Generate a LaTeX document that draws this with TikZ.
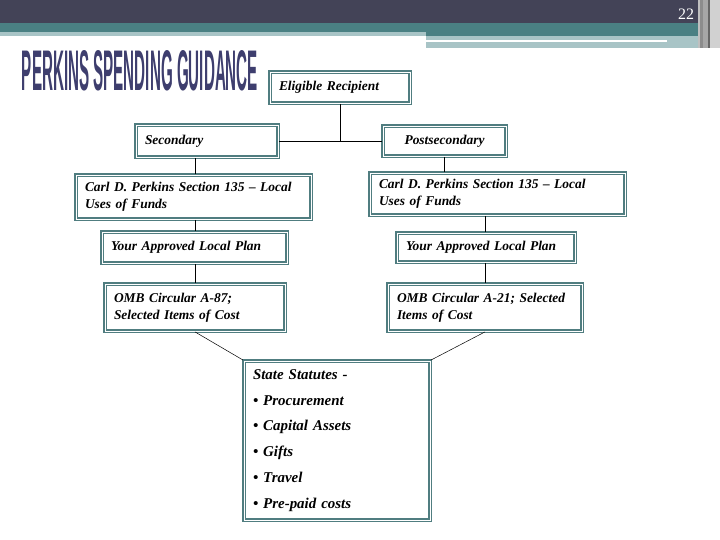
\documentclass[tikz,border=0pt]{standalone}
\usepackage{fontspec}
\setmainfont{Liberation Serif}
\newfontfamily\titlefont{Liberation Sans}
\usepackage{xcolor}
\usepackage{tikz}
\usetikzlibrary{positioning}

\definecolor{headdark}{RGB}{67,67,87}
\definecolor{headteal}{RGB}{74,128,131}
\definecolor{headlight}{RGB}{168,196,198}
\definecolor{boxteal}{RGB}{80,125,128}
\definecolor{titleblue}{RGB}{62,62,110}

\begin{document}
\begin{tikzpicture}[
  x=1bp, y=-1bp,
  box/.style={draw=boxteal, double=white, double distance=0.9bp, line width=1.8bp,
    fill=white, align=left, inner xsep=9bp, inner ysep=2bp,
    font=\fontsize{13.5}{17.5}\selectfont\bfseries\itshape},
  list/.style={box, font=\fontsize{15}{26}\selectfont\bfseries\itshape},
  link/.style={draw=black, line width=0.7bp}
]
  \useasboundingbox (0,0) rectangle (720,540);

  % slide header
  \fill[headdark] (0,0) rectangle (698,23);
  \fill[headteal] (0,23) rectangle (698,32);
  \fill[headlight] (0,32) rectangle (426,36);
  \fill[headteal] (426,32) rectangle (698,36);
  \fill[headlight] (426,36) rectangle (698,48);
  \fill[white] (426,40.5) rectangle (667,42);
  \fill[black!25] (698,0) rectangle (720,48);
  \fill[black!45] (700,0) rectangle (703,48);
  \fill[black!35] (703,0) rectangle (708,48);
  \fill[black!60] (708,0) rectangle (710,48);
  \fill[black!18] (710,0) rectangle (720,48);
  \node[text=white, font=\fontsize{16}{16}\selectfont] (pageno) at (686,14) {22};

  % title
  \node[text=titleblue, inner sep=0pt] (title) at (140,71)
    {\resizebox{236bp}{40bp}{\titlefont\bfseries PERKINS SPENDING GUIDANCE}};

  % boxes
  \node[box, text width=122bp, minimum height=31bp] (er) at (340,87.5) {Eligible Recipient};
  \node[box, text width=124bp, minimum height=32bp] (sec) at (207,141) {Secondary};
  \node[box, text width=105bp, minimum height=30bp, align=center] (post) at (444.5,141) {Postsecondary};

  \node[box, text width=217bp, minimum height=44bp] (carlL) at (193.5,197)
    {Carl D. Perkins Section 135 -- Local\\Uses of Funds};
  \node[box, text width=237bp, minimum height=42bp] (carlR) at (497.5,194)
    {Carl D. Perkins Section 135 -- Local\\Uses of Funds};

  \node[box, text width=167bp, minimum height=31bp] (planL) at (194.5,247.5) {Your Approved Local Plan};
  \node[box, text width=160bp, minimum height=29bp] (planR) at (486,247.5) {Your Approved Local Plan};

  \node[box, text width=162bp, minimum height=47bp] (ombL) at (195,307.5)
    {OMB Circular A-87;\\Selected Items of Cost};
  \node[box, text width=176bp, minimum height=47bp] (ombR) at (485,307.5)
    {OMB Circular A-21; Selected\\Items of Cost};

  \node[list, text width=168bp, minimum height=159bp] (ss) at (337,440.5)
    {State Statutes -\\\textbullet{} Procurement\\\textbullet{} Capital Assets\\\textbullet{} Gifts\\\textbullet{} Travel\\\textbullet{} Pre-paid costs};

  % connectors
  \draw[link] (er.south) -- (er.south |- sec.east);
  \draw[link] (sec.east) -- (post.west);
  \draw[link] (sec.south -| ombL) -- (carlL.north -| ombL);
  \draw[link] (post.south) -- (post.south |- carlR.north);
  \draw[link] (carlL.south -| ombL) -- (planL.north -| ombL);
  \draw[link] (carlR.south -| ombR) -- (planR.north -| ombR);
  \draw[link] (planL.south -| ombL) -- (ombL.north);
  \draw[link] (planR.south -| ombR) -- (ombR.north);
  \draw[link, line width=0.5bp] (ombL.south) -- (ss.north west);
  \draw[link, line width=0.5bp] (ombR.south) -- (ss.north east);
\end{tikzpicture}
\end{document}
